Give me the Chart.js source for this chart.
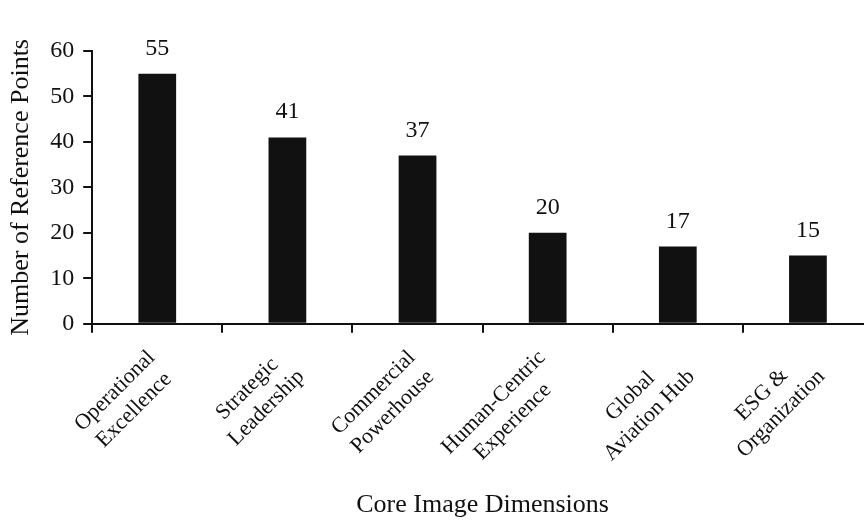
<!DOCTYPE html>
<html>
<head>
<meta charset="utf-8">
<script src="https://cdn.jsdelivr.net/npm/chart.js@4"></script>
<style>
  html, body { margin: 0; padding: 0; background: #fff; overflow: hidden; }
  #wrap { width: 864px; height: 521px; overflow: hidden; }
</style>
</head>
<body>
<div id="wrap"><canvas id="chart" width="873" height="521"></canvas></div>
<script>
// categories and values
const categories = [
    ['Operational', 'Excellence'],
    ['Strategic', 'Leadership'],
    ['Commercial', 'Powerhouse'],
    ['Human-Centric', 'Experience'],
    ['Global', 'Aviation Hub'],
    ['ESG &', 'Organization']
];
const referencePoints = [55, 41, 37, 20, 17, 15];
const yTicks = [0, 10, 20, 30, 40, 50, 60];

const serif = '"Liberation Serif", "Times New Roman", serif';

// numbers above the bars
const valueLabels = {
    id: 'valueLabels',
    afterDatasetsDraw(chart) {
        const ctx = chart.ctx;
        const meta = chart.getDatasetMeta(0);
        ctx.save();
        ctx.font = '24px ' + serif;
        ctx.fillStyle = '#111';
        ctx.textAlign = 'center';
        ctx.textBaseline = 'alphabetic';
        meta.data.forEach((bar, i) => {
            ctx.fillText(referencePoints[i], bar.x, bar.y - 19);
        });
        ctx.restore();
    }
};

// rotated category labels, lines centred on each other (chart.js right-aligns them)
const categoryLabels = {
    id: 'categoryLabels',
    afterDraw(chart) {
        const ctx = chart.ctx;
        const xs = chart.scales.x;
        const lineH = 27;
        ctx.save();
        ctx.font = '22px ' + serif;
        ctx.fillStyle = '#111';
        ctx.textAlign = 'center';
        ctx.textBaseline = 'middle';
        categories.forEach((lines, i) => {
            const x = xs.getPixelForValue(i);
            const blockW = Math.max(...lines.map(l => ctx.measureText(l).width));
            ctx.save();
            ctx.translate(x + 4, xs.top + 40);
            ctx.rotate(-Math.PI / 4);
            lines.forEach((l, j) => {
                ctx.fillText(l, -blockW / 2, (j - (lines.length - 1) / 2) * lineH);
            });
            ctx.restore();
        });
        ctx.restore();
    }
};

new Chart(document.getElementById('chart').getContext('2d'), {
    type: 'bar',
    data: {
        labels: categories,
        datasets: [{
            data: referencePoints,
            backgroundColor: '#111111',
            borderWidth: 0,
            barPercentage: 0.29,
            categoryPercentage: 1.0
        }]
    },
    options: {
        responsive: false,
        animation: false,
        devicePixelRatio: 1,
        layout: { padding: { top: 51, right: 0, left: 6, bottom: 0 } },
        plugins: {
            legend: { display: false },
            tooltip: { enabled: false }
        },
        scales: {
            x: {
                offset: true,
                border: { display: true, color: '#111', width: 2 },
                grid: {
                    offset: true,
                    drawOnChartArea: false,
                    drawTicks: true,
                    tickLength: 9,
                    color: '#111',
                    lineWidth: 2
                },
                ticks: {
                    color: 'rgba(0,0,0,0)',
                    font: { family: serif, size: 21 },
                    maxRotation: 45,
                    minRotation: 45,
                    padding: 8
                },
                title: {
                    display: true,
                    text: 'Core Image Dimensions',
                    color: '#111',
                    font: { family: serif, size: 26 },
                    padding: { top: 13, bottom: 0 }
                }
            },
            y: {
                min: 0,
                max: 60,
                afterBuildTicks(axis) {
                    axis.ticks = yTicks.map(v => ({ value: v }));
                },
                border: { display: true, color: '#111', width: 2 },
                grid: {
                    drawOnChartArea: false,
                    drawTicks: true,
                    tickLength: 9,
                    color: '#111',
                    lineWidth: 2
                },
                ticks: {
                    color: '#111',
                    font: { family: serif, size: 24 },
                    padding: 9
                },
                title: {
                    display: true,
                    text: 'Number of Reference Points',
                    color: '#111',
                    font: { family: serif, size: 26 },
                    padding: { top: 0, bottom: 4 }
                }
            }
        }
    },
    plugins: [valueLabels, categoryLabels]
});
</script>
</body>
</html>
